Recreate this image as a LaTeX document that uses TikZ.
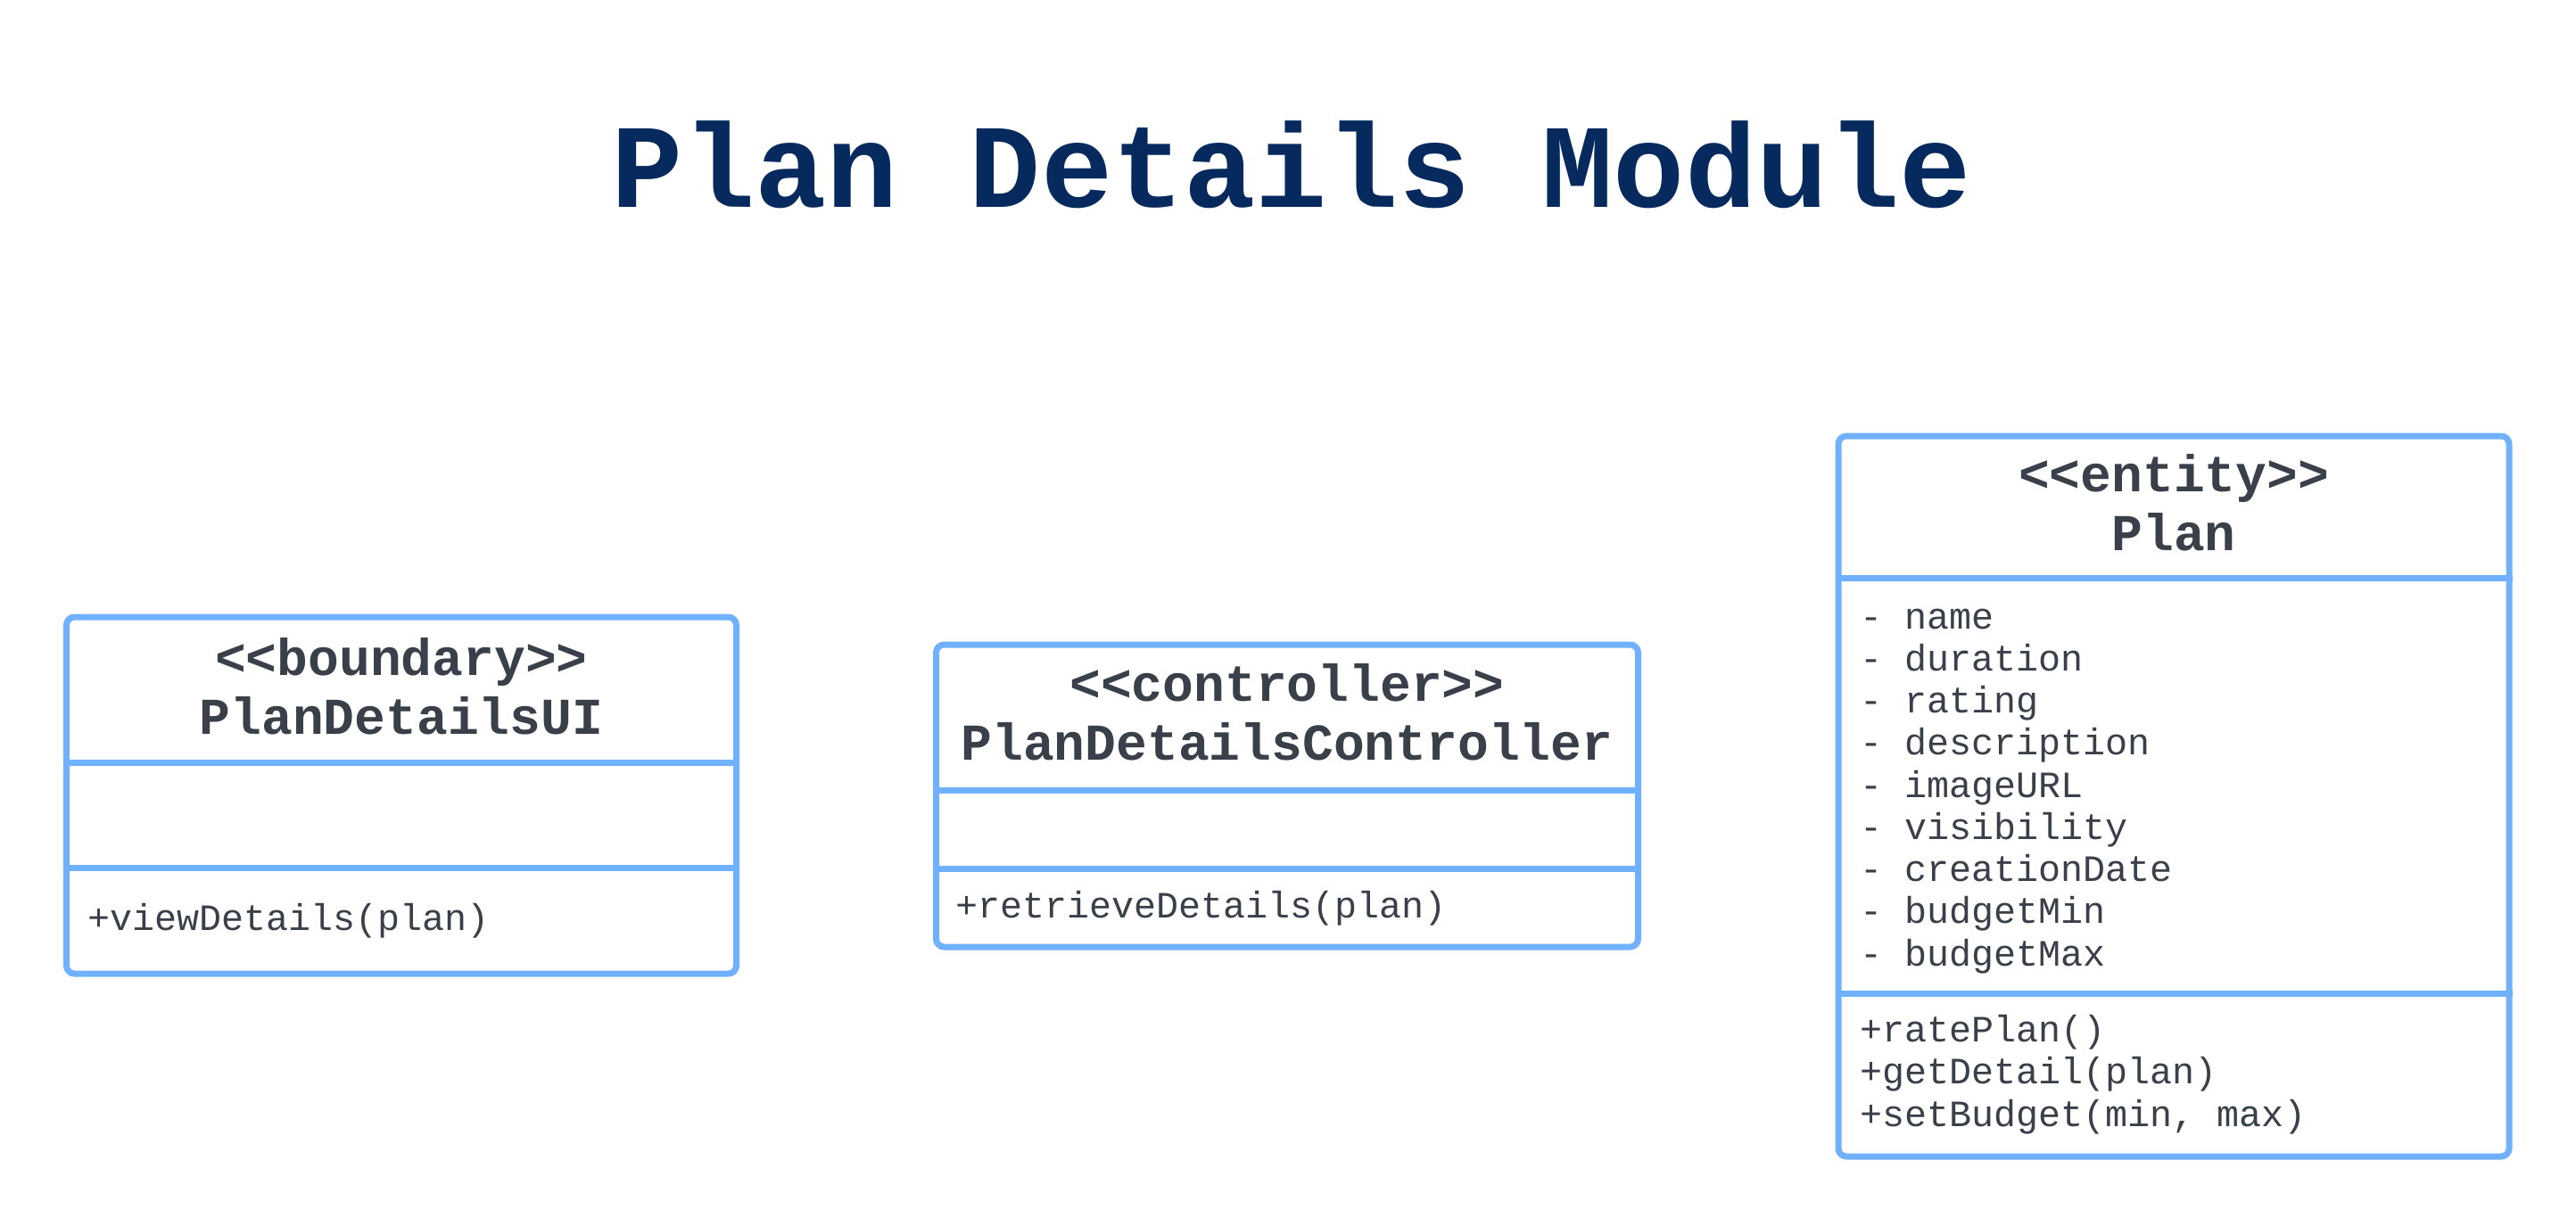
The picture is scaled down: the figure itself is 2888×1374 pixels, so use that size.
\documentclass[tikz,border=0pt]{standalone}
\usepackage{fontspec}
\setmonofont{Liberation Mono}
\usepackage{xcolor}
\usetikzlibrary{positioning}

\definecolor{umlblue}{HTML}{70B1FF}
\definecolor{umltext}{HTML}{3A404A}
\definecolor{titleblue}{HTML}{062A5E}

\begin{document}
\begin{tikzpicture}[x=1pt, y=-1pt, font=\ttfamily,
    classbox/.style={draw=umlblue, line width=7pt, rounded corners=9pt, inner sep=0pt},
    divider/.style={draw=umlblue, line width=7pt},
    stereo/.style={font=\ttfamily\bfseries\fontsize{58}{66}\selectfont, text=umltext, anchor=base, inner sep=0pt},
    member/.style={font=\ttfamily\fontsize{41.7}{47.25}\selectfont, text=umltext, anchor=base west, inner sep=0pt, align=left}]

            \useasboundingbox (0,0) rectangle (2888,1374);

            \node[font=\ttfamily\bfseries\fontsize{133.7}{140}\selectfont, text=titleblue, anchor=base, inner sep=0pt] (title) at (1448,232) {Plan Details Module};

            % boundary class
            \node[classbox, minimum width=751pt, minimum height=400pt] (ui) at (450,892) {};
            \draw[divider] (ui.west |- 0,855) -- (ui.east |- 0,855);
            \draw[divider] (ui.west |- 0,973) -- (ui.east |- 0,973);
            \node[stereo] (uiStereo) at (450,757) {<<boundary>>};
            \node[stereo] (uiName) at (450,823) {PlanDetailsUI};
            \node[member] (uiOps) at (98,1043) {+viewDetails(plan)};

            % controller class
            \node[classbox, minimum width=787pt, minimum height=339pt] (ctrl) at (1443,892.5) {};
            \draw[divider] (ctrl.west |- 0,886) -- (ctrl.east |- 0,886);
            \draw[divider] (ctrl.west |- 0,974) -- (ctrl.east |- 0,974);
            \node[stereo] (ctrlStereo) at (1443,786) {<<controller>>};
            \node[stereo] (ctrlName) at (1443,852) {PlanDetailsController};
            \node[member] (ctrlOps) at (1071,1029) {+retrieveDetails(plan)};

            % entity class (multi-line nodes sit on their last baseline)
            \node[classbox, minimum width=752pt, minimum height=808pt] (plan) at (2437,893) {};
            \draw[divider] (plan.west |- 0,648) -- (plan.east |- 0,648);
            \draw[divider] (plan.west |- 0,1114) -- (plan.east |- 0,1114);
            \node[stereo] (planStereo) at (2437,551) {<<entity>>};
            \node[stereo] (planName) at (2437,617) {Plan};
            \node[member] (planAttrs) at (2085,1083) {- name\\- duration\\- rating\\- description\\- imageURL\\- visibility\\- creationDate\\- budgetMin\\- budgetMax};
            \node[member] (planOps) at (2085,1263) {+ratePlan()\\+getDetail(plan)\\+setBudget(min, max)};

        \end{tikzpicture}
\end{document}
